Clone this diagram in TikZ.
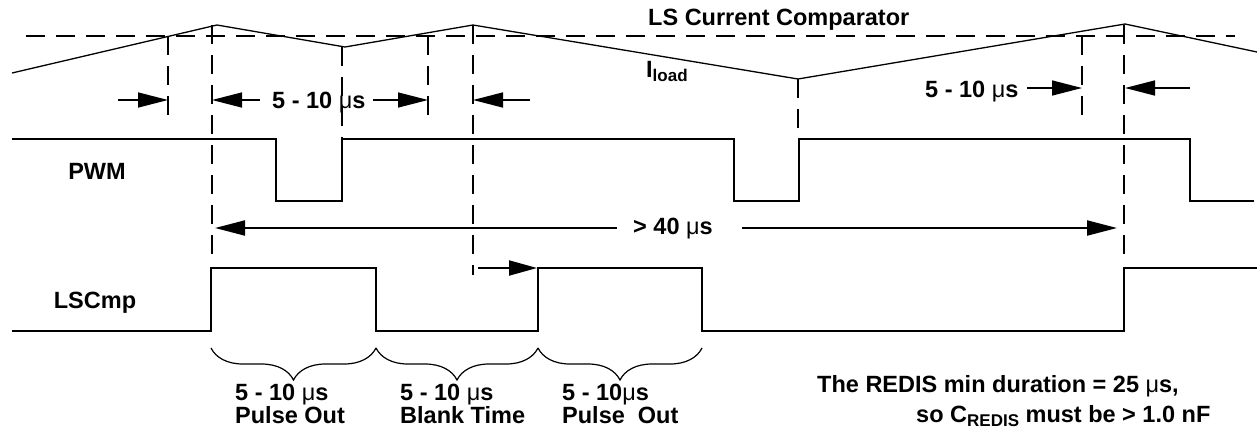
\documentclass[tikz,border=0pt]{standalone}
\usepackage{fontspec}
\setmainfont{Liberation Sans}
\usetikzlibrary{arrows.meta,decorations.pathreplacing}
\newcommand{\musec}{{\mdseries μ}s}
\newcommand{\tief}[1]{\raisebox{-0.35ex}{\fontsize{17}{17}\selectfont #1}}
\tikzset{
	signal/.style={line width=2.4pt},
	strom/.style={line width=1.3pt},
	hilfslinie/.style={line width=2pt,dash pattern=on 19pt off 11pt},
	pfeil/.style={line width=1.5pt,-{Triangle[length=30pt,width=15pt]}},
	klammer/.style={line width=1.2pt,decorate,decoration={brace,mirror,amplitude=32pt}},
	txt/.style={font=\fontsize{23.5}{23.5}\selectfont\bfseries,inner sep=0pt}
}
\begin{document}
\begin{tikzpicture}[x=1pt,y=-1pt]
		\useasboundingbox (0,0) rectangle (1257,429);
		% Schwelle des Komparators
		\draw[hilfslinie] (26,36) -- (1235,36);
		\node[txt,anchor=base west] (lscc) at (648,25) {LS Current Comparator};
		% Laststrom
		\draw[strom] (12,73) -- (217,25) -- (345,47) -- (473,25) -- (798,79) -- (1125,24) -- (1257,52);
		\node[txt,anchor=base west] (iload) at (646,77) {I\tief{load}};
		% senkrechte Hilfslinien
		\foreach \x/\ya/\yb in {168/36/117,212/25/262,342/47/139,428/36/121,473/25/275,798/79/139,1082/36/122,1124/25/262}
		\draw[hilfslinie] (\x,\ya) -- (\x,\yb);
		% PWM
		\draw[signal] (12,139) -- (276,139) -- (276,201) -- (342,201) -- (342,139) -- (734,139) -- (734,201) -- (799,201) -- (799,139) -- (1190,139) -- (1190,201) -- (1254,201);
		\node[txt,anchor=base] (pwm) at (97,179) {PWM};
		% LSCmp
		\draw[signal] (12,331) -- (211,331) -- (211,268) -- (376,268) -- (376,331) -- (538,331) -- (538,268) -- (702,268) -- (702,331) -- (1124,331) -- (1124,268) -- (1257,268);
		\node[txt,anchor=base] (lscmp) at (95,308) {LSCmp};
		% Pfeile oben : 5 - 10
		\foreach \xa/\xb/\y in {118/168/100,260/212/100,373/428/100,530/473/100,1027/1082/88,1190/1125/88}
		\draw[pfeil] (\xa,\y) -- (\xb,\y);
		\node[txt,anchor=base west] (zeitl) at (272,108) {5 - 10 \musec};
		\node[txt,anchor=base west] (zeitr) at (925,97) {5 - 10 \musec};
		% Pfeile : > 40
		\draw[pfeil,line width=2pt] (617,228) -- (215,228);
		\draw[pfeil,line width=2pt] (742,228) -- (1117,228);
		\node[txt,anchor=base west] (vierzig) at (633,234) {> 40 \musec};
		\draw[pfeil,line width=2pt,-{Triangle[length=28pt,width=15pt]}] (478,268) -- (537,268);
		% Klammern unten
		\foreach \xa/\xb in {211/376,376/538,538/702}
		\draw[klammer] (\xa,348) -- (\xb,348);
		\node[txt,anchor=base west] (pulsa) at (235,400) {5 - 10 \musec};
		\node[txt,anchor=base west] (pulsat) at (235,423) {Pulse Out};
		\node[txt,anchor=base west] (blank) at (400,400) {5 - 10 \musec};
		\node[txt,anchor=base west] (blankt) at (400,423) {Blank Time};
		\node[txt,anchor=base west] (pulsb) at (562,400) {5 - 10\musec};
		\node[txt,anchor=base west] (pulsbt) at (562,423) {Pulse~ Out};
		% Hinweis rechts unten
		\node[txt,anchor=base west] (redis) at (817,392) {The REDIS min duration = 25 \musec,};
		\node[txt,anchor=base west] (credis) at (916,422) {so C\tief{REDIS} must be > 1.0 nF};
	\end{tikzpicture}
\end{document}
